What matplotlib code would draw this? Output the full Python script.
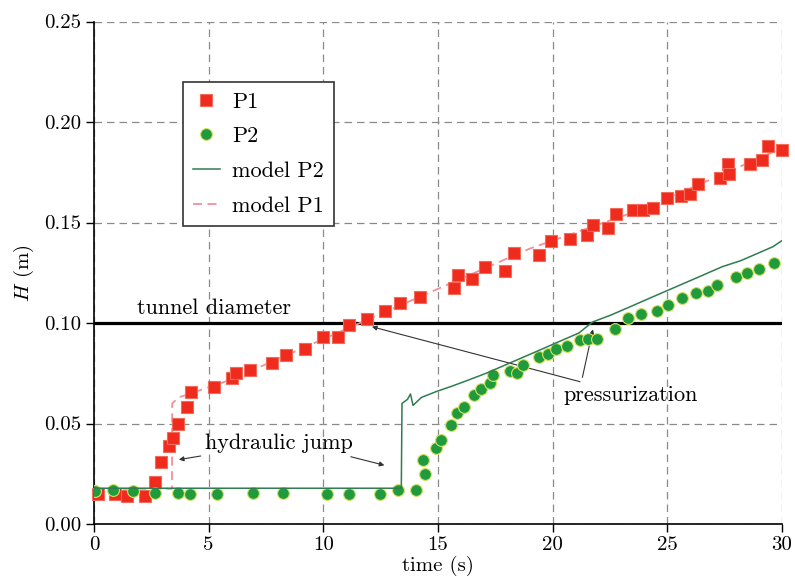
import matplotlib
matplotlib.use("Agg")
import matplotlib.pyplot as plt

plt.rcParams['font.family'] = ['cmr10', 'DejaVu Serif']
plt.rcParams['mathtext.fontset'] = 'cm'
plt.rcParams['axes.formatter.use_mathtext'] = True

# ---- data ----
p1_t = [0.18, 0.91, 1.44, 2.23, 2.66, 2.92, 3.27, 3.45, 3.67, 4.05, 4.21, 5.23, 6.01, 6.21,
        6.81, 7.76, 8.37, 9.21, 9.98, 10.65, 11.12, 11.91, 12.67, 13.34, 14.22, 15.69, 15.89,
        16.50, 17.05, 17.91, 18.31, 19.42, 19.93, 20.74, 21.50, 21.74, 22.42, 22.75, 23.51,
        23.96, 24.37, 24.97, 25.58, 25.98, 26.33, 27.29, 27.64, 27.69, 28.60, 29.11, 29.41,
        30.0]
p1_h = [0.0150, 0.0150, 0.0140, 0.0140, 0.0210, 0.0310, 0.0390, 0.0430, 0.0500, 0.0580,
        0.0655, 0.0680, 0.0725, 0.0750, 0.0765, 0.0800, 0.0840, 0.0870, 0.0930, 0.0930,
        0.0990, 0.1020, 0.1060, 0.1100, 0.1130, 0.1175, 0.1240, 0.1220, 0.1280, 0.1260,
        0.1350, 0.1340, 0.1410, 0.1420, 0.1440, 0.1490, 0.1475, 0.1540, 0.1560, 0.1560,
        0.1570, 0.1620, 0.1630, 0.1640, 0.1690, 0.1720, 0.1790, 0.1740, 0.1790, 0.1810,
        0.1880, 0.1860]

p2_t = [0.05, 0.83, 1.70, 2.66, 3.66, 4.18, 5.35, 6.94, 8.23, 10.14, 11.12, 12.46, 13.27,
        14.04, 14.35, 14.43, 14.92, 15.14, 15.57, 15.83, 16.14, 16.57, 16.87, 17.27, 17.41,
        18.14, 18.45, 18.71, 19.42, 19.80, 20.13, 20.63, 21.19, 21.54, 21.95, 22.72, 23.29,
        23.86, 24.57, 25.03, 25.64, 26.25, 26.79, 27.16, 27.99, 28.47, 29.01, 29.66]
p2_h = [0.0163, 0.0168, 0.0163, 0.0153, 0.0153, 0.0148, 0.0148, 0.0153, 0.0153, 0.0148,
        0.0148, 0.0148, 0.0168, 0.0168, 0.0320, 0.0250, 0.0376, 0.0420, 0.0495, 0.0550,
        0.0580, 0.0640, 0.0670, 0.0700, 0.0740, 0.0760, 0.0750, 0.0790, 0.0830, 0.0846,
        0.0870, 0.0886, 0.0916, 0.0920, 0.0920, 0.0970, 0.1025, 0.1045, 0.1060, 0.1090,
        0.1125, 0.1150, 0.1160, 0.1190, 0.1230, 0.1250, 0.1270, 0.1300]

model_p2_t = [0, 13.40, 13.43, 13.67, 13.80, 13.91, 14.28, 14.95, 15.59, 16.30, 17.10, 17.91,
              18.72, 19.53, 20.33, 21.14, 21.74, 22.55, 23.36, 24.16, 24.97, 25.78, 26.59,
              27.39, 28.20, 29.01, 29.61, 30.0]
model_p2_h = [0.0178, 0.0178, 0.0600, 0.0620, 0.0647, 0.0590, 0.0630, 0.0660, 0.0685, 0.0715,
              0.0750, 0.0790, 0.0830, 0.0870, 0.0910, 0.0950, 0.1005, 0.1040, 0.1080, 0.1120,
              0.1160, 0.1200, 0.1240, 0.1280, 0.1310, 0.1350, 0.1380, 0.1410]

model_p1_t = [0, 3.40, 3.41, 3.7, 4.2, 5.0, 6.0, 7.0, 8.0, 9.0, 10.0, 11.0, 12.0, 13.0, 14.0,
              15.0, 16.0, 17.0, 18.0, 19.0, 20.0, 21.0, 22.0, 23.0, 24.0, 25.0, 26.0, 27.0,
              28.0, 29.0, 30.0]
model_p1_h = [0.0175, 0.0175, 0.0600, 0.0630, 0.0650, 0.0680, 0.0720, 0.0770, 0.0820, 0.0870,
              0.0920, 0.0970, 0.1020, 0.1070, 0.1120, 0.1170, 0.1220, 0.1270, 0.1320, 0.1370,
              0.1410, 0.1450, 0.1490, 0.1530, 0.1570, 0.1620, 0.1670, 0.1720, 0.1770, 0.1820,
              0.1870]

tunnel_diameter = 0.10
x_ticks = [0, 5, 10, 15, 20, 25, 30]
y_ticks = [0.00, 0.05, 0.10, 0.15, 0.20, 0.25]

# ---- figure ----
fig = plt.figure(figsize=(7.95, 5.84), dpi=100)
ax = fig.add_axes([94 / 795, 1 - 524 / 584, (782 - 94) / 795, (524 - 21.5) / 584])

ax.grid(True, linestyle=(0, (6, 4)), color='#8a8a8a', linewidth=0.9)
ax.set_axisbelow(True)

ax.axhline(tunnel_diameter, color='black', linewidth=2.3, zorder=2)

l_mp1, = ax.plot(model_p1_t, model_p1_h, linestyle=(0, (5, 3)), color='#f0909a',
                 linewidth=1.3, zorder=3, label='model P1')
s_p1, = ax.plot(p1_t, p1_h, linestyle='none', marker='s', markersize=9,
                color='#ee2b1c', markeredgecolor='#f36a5a', markeredgewidth=0.8, zorder=4,
                label='P1', clip_on=False)
s_p2, = ax.plot(p2_t, p2_h, linestyle='none', marker='o', markersize=8.5,
                color='#1f9a3c', markeredgecolor='#d8e060', markeredgewidth=0.8, zorder=4,
                label='P2')
l_mp2, = ax.plot(model_p2_t, model_p2_h, linestyle='-', color='#2e7d4f',
                 linewidth=1.1, zorder=5, label='model P2')

ax.set_xlim(0, 30)
ax.set_ylim(0, 0.25)
ax.set_xticks(x_ticks)
ax.set_xticklabels([str(v) for v in x_ticks])
ax.set_yticks(y_ticks)
ax.set_yticklabels(['%.2f' % v for v in y_ticks])
ax.tick_params(direction='out', length=6, width=1, labelsize=15, pad=3)

for s in ['top', 'right']:
    ax.spines[s].set_visible(False)
for s in ['left', 'bottom']:
    ax.spines[s].set_linewidth(1.2)

ax.set_xlabel('time (s)', fontsize=15, labelpad=1)
ax.set_ylabel('$H$ (m)', fontsize=15, labelpad=6)

leg = ax.legend(handles=[s_p1, s_p2, l_mp2, l_mp1], loc='upper left',
                bbox_to_anchor=((183 - 94) / 688, (524 - 82) / 502.5), borderaxespad=0,
                fontsize=16, frameon=True,
                fancybox=False, edgecolor='#333333', framealpha=1,
                handlelength=1.2, borderpad=0.45, labelspacing=0.68, handletextpad=0.55)
leg.get_frame().set_linewidth(1.2)

ax.text(1.88, 0.1045, 'tunnel diameter', fontsize=16, ha='left', va='baseline')

arrow_kw = dict(arrowstyle='-|>', color='#333333', lw=0.8, mutation_scale=7)
ax.annotate('hydraulic jump', xy=(3.58, 0.0318), xytext=(4.84, 0.0403),
            fontsize=16, ha='left', va='center', arrowprops=arrow_kw)
ax.annotate('', xy=(12.78, 0.0289), xytext=(11.08, 0.0338), arrowprops=arrow_kw)

ax.annotate('pressurization', xy=(12.0, 0.0985), xytext=(20.45, 0.0642),
            fontsize=16, ha='left', va='center', arrowprops=arrow_kw)
ax.annotate('', xy=(21.78, 0.0982), xytext=(21.27, 0.0716), arrowprops=arrow_kw)

fig.savefig('out.png', dpi=100)
